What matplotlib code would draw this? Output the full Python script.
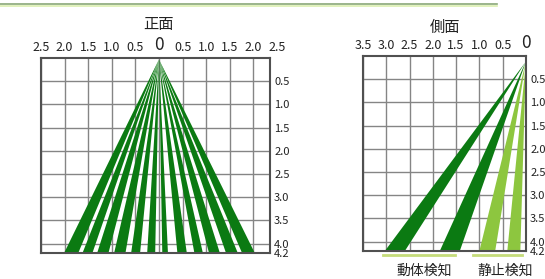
import matplotlib
matplotlib.use("Agg")
from matplotlib import pyplot as plt
from matplotlib.lines import Line2D

plt.rcParams['font.family'] = ['Noto Sans CJK JP', 'DejaVu Sans']

# 正面 (front view): beam bottom edges at 4.2 m
front_beams = [(-2.01, -1.71), (-1.62, -1.41), (-1.31, -1.07), (-0.95, -0.71),
               (-0.59, -0.40), (-0.25, -0.08), (0.07, 0.19), (0.39, 0.59),
               (0.75, 0.93), (1.06, 1.29), (1.42, 1.67), (1.76, 2.03)]
front_xticks = [-2.5, -2.0, -1.5, -1.0, -0.5, 0, 0.5, 1.0, 1.5, 2.0]
front_xlabels = ['2.5', '2.0', '1.5', '1.0', '0.5', '0', '0.5', '1.0', '1.5', '2.0']

# 側面 (side view)
side_moving = [(3.03, 2.60), (1.85, 1.42)]   # 動体検知
side_static = [(1.00, 0.66), (0.40, 0.12)]   # 静止検知
side_xticks = [3.5, 3.0, 2.5, 2.0, 1.5, 1.0, 0.5, 0]
side_xlabels = ['3.5', '3.0', '2.5', '2.0', '1.5', '1.0', '0.5', '0']

yticks = [0.5, 1.0, 1.5, 2.0, 2.5, 3.0, 3.5, 4.0, 4.2]
ylabels = ['0.5', '1.0', '1.5', '2.0', '2.5', '3.0', '3.5', '4.0', '4.2']
grid_y = [0.5, 1.0, 1.5, 2.0, 2.5, 3.0, 3.5, 4.0]

dark = '#0b7a12'
light = '#8dc63f'

fig = plt.figure(figsize=(5.45, 2.79), dpi=100)

# 上の緑線
fig.add_artist(Line2D([0, 0.912], [0.987, 0.987], color='#8aa878', lw=1.2))
fig.add_artist(Line2D([0, 0.912], [0.980, 0.980], color='#dcefb0', lw=1.2))


def style(ax, xticks, xlabels, xlim):
    ax.set_xlim(*xlim)
    ax.set_ylim(4.2, 0)
    ax.set_xticks(xticks)
    ax.set_xticklabels(xlabels)
    ax.set_yticks(yticks)
    ax.set_yticklabels(ylabels)
    ax.xaxis.tick_top()
    ax.yaxis.tick_right()
    ax.tick_params(axis='x', length=0, pad=3, labelsize=9, colors='#222222')
    ax.tick_params(axis='y', length=0, pad=3, labelsize=8, colors='#222222')
    for t in ax.get_xticklabels():
        if t.get_text() == '0':
            t.set_fontsize(12.5)
    for x in xticks:
        ax.axvline(x, color='#858585', lw=1, zorder=0)
    for y in grid_y:
        ax.axhline(y, color='#858585', lw=1, zorder=0)
    for s in ax.spines.values():
        s.set_color('#505050')
        s.set_linewidth(1.5)


ax1 = fig.add_axes([0.0752, 0.0932, 0.420, 0.699])
style(ax1, front_xticks, front_xlabels, (-2.5, 2.35))
ax1.text(2.5, -0.08, '2.5', ha='center', va='bottom', fontsize=9,
         color='#222222', clip_on=False)
for x0, x1 in front_beams:
    ax1.fill([0, x0, x1], [0.03, 4.2, 4.2], color=dark, lw=0, zorder=2)

ax2 = fig.add_axes([0.666, 0.1004, 0.299, 0.699])
style(ax2, side_xticks, side_xlabels, (3.5, 0))
for x0, x1 in side_moving:
    ax2.fill([0, x0, x1], [0.12, 4.2, 4.2], color=dark, lw=0, zorder=2)
for x0, x1 in side_static:
    ax2.fill([0, x0, x1], [0.12, 4.2, 4.2], color=light, lw=0, zorder=2)

ax2.plot([3.07, 1.52], [4.29, 4.29], color='#c5dc7a', lw=2, clip_on=False)
ax2.plot([1.14, 0.09], [4.29, 4.29], color='#c5dc7a', lw=2, clip_on=False)
ax2.text(2.19, 4.62, '動体検知', ha='center', va='center', fontsize=10,
         color='#222222', clip_on=False)
ax2.text(0.45, 4.62, '静止検知', ha='center', va='center', fontsize=10,
         color='#222222', clip_on=False)

fig.text(158 / 545, 1 - 25 / 279, '正面', ha='center', va='center', fontsize=11, color='#222222')
fig.text(445 / 545, 1 - 27 / 279, '側面', ha='center', va='center', fontsize=11, color='#222222')

fig.savefig('out.png', dpi=100)
